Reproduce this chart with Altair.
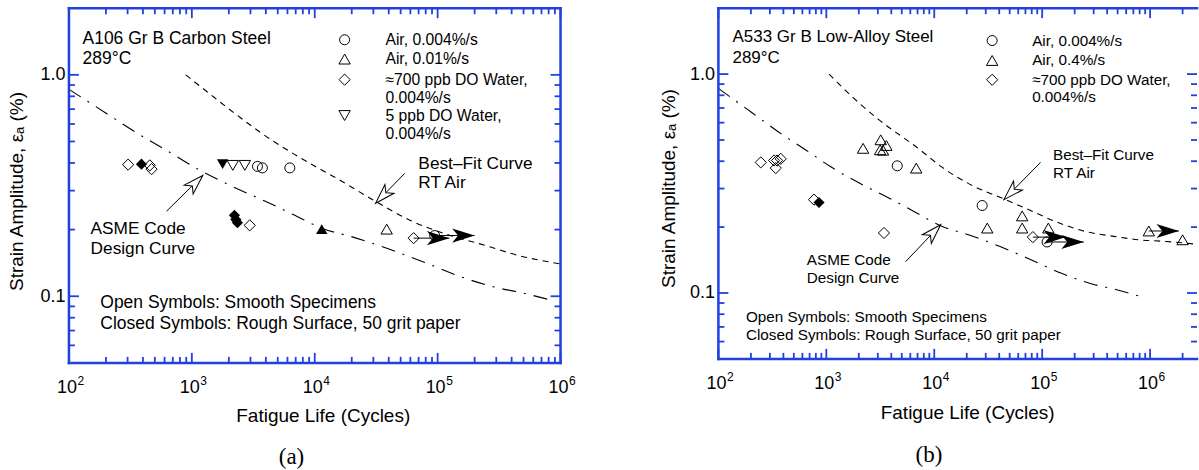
import altair as alt
import pandas as pd

FONT = "Liberation Sans"
SERIF = "Liberation Serif"
BLUE = "#2040e0"
INK = "black"

# ---------------- Panel (a): A106 Gr B carbon steel, 289 C ----------------
a_life = [303, 389, 455, 470, 2220, 2280, 2350, 2958, 63800,
          11400, 38500,
          1780, 2155, 2700,
          3420, 3750, 6270, 94600]
a_strain = [0.393, 0.395, 0.390, 0.375, 0.232, 0.222, 0.215, 0.209, 0.183,
            0.201, 0.201,
            0.395, 0.390, 0.390,
            0.386, 0.380, 0.380, 0.188]
a_symbol = ["diamond"] * 9 + ["triangle-up"] * 2 + ["triangle-down"] * 3 + ["circle"] * 4
a_closed = [False, True, False, False, True, True, True, False, False,
            True, False,
            True, False, False,
            False, False, False, False]
a_runout_from = [63800, 94600]
a_runout_to = [124500, 200000]
a_runout_strain = [0.183, 0.188]

# ---------------- Panel (b): A533 Gr B low-alloy steel, 289 C ----------------
b_life = [247, 328, 350, 378, 340, 769, 855, 3420, 82000,
          2190, 3190, 3600, 3150, 3350, 6810, 31000, 65300, 65300, 114000, 973000, 2000000,
          4540, 27800, 111000]
b_strain = [0.395, 0.403, 0.403, 0.410, 0.372, 0.267, 0.259, 0.188, 0.180,
            0.458, 0.501, 0.472, 0.451, 0.449, 0.372, 0.198, 0.225, 0.198, 0.198, 0.192, 0.175,
            0.381, 0.251, 0.171]
b_symbol = ["diamond"] * 9 + ["triangle-up"] * 12 + ["circle"] * 3
b_closed = [False] * 6 + [True] + [False] * 17
b_runout_from = [82000, 111000, 973000]
b_runout_to = [166000, 243000, 1850000]
b_runout_strain = [0.180, 0.171, 0.192]

# ---------------- Curves ----------------
asme_life = [100, 205, 355, 655, 1100, 2040, 4000, 6670, 11400, 21100, 40700,
             76000, 151000, 290000, 490000, 840000]
asme_strain = [0.86, 0.666, 0.547, 0.448, 0.377, 0.317, 0.268, 0.234, 0.203, 0.184, 0.163,
               0.143, 0.123, 0.110, 0.1035, 0.096]
cs_fit_life = [893, 1400, 2460, 4300, 7100, 17000, 29600, 60000, 120000, 241000, 450000, 1000000]
cs_fit_strain = [1.0, 0.82, 0.643, 0.514, 0.432, 0.328, 0.273, 0.22, 0.19, 0.17, 0.153, 0.14]
las_fit_life = [1060, 1870, 3080, 6730, 12700, 22500, 45800, 75300, 133000, 252000,
                479000, 785000, 1400000, 2720000]
las_fit_strain = [1.0, 0.762, 0.618, 0.467, 0.366, 0.31, 0.267, 0.24, 0.212, 0.191,
                  0.181, 0.175, 0.172, 0.167]

# ---------------- Text annotations ----------------
a_texts = [
    ("A106 Gr B Carbon Steel", 129, 1.455, 17.5),
    ("289°C", 129, 1.182, 17.5),
    ("Air, 0.004%/s", 37600, 1.44, 15.7),
    ("Air, 0.01%/s", 37600, 1.178, 15.7),
    ("≈700 ppb DO Water,", 37600, 0.951, 15.7),
    ("0.004%/s", 37600, 0.789, 15.7),
    ("5 ppb DO Water,", 37600, 0.655, 15.7),
    ("0.004%/s", 37600, 0.543, 15.7),
    ("Best–Fit Curve", 69700, 0.394, 17.3),
    ("RT Air", 69700, 0.324, 17.3),
    ("ASME Code", 150, 0.2006, 17.3),
    ("Design Curve", 150, 0.163, 17.3),
    ("Open Symbols: Smooth Specimens", 180, 0.0931, 17.5),
    ("Closed Symbols: Rough Surface, 50 grit paper", 180, 0.0749, 17.5),
]
a_legend = [("circle", 17500, 1.44), ("triangle-up", 17500, 1.178),
            ("diamond", 17500, 0.951), ("triangle-down", 17500, 0.655)]
a_arrows = [(622, 0.242, 1227, 0.351, 45), (54000, 0.359, 31300, 0.263, 224)]

b_texts = [
    ("A533 Gr B Low-Alloy Steel", 135, 1.476, 17),
    ("289°C", 135, 1.183, 17),
    ("Air, 0.004%/s", 80700, 1.423, 15.3),
    ("Air, 0.4%/s", 80700, 1.154, 15.3),
    ("≈700 ppb DO Water,", 80700, 0.942, 15.3),
    ("0.004%/s", 80700, 0.788, 15.3),
    ("Best–Fit Curve", 126000, 0.426, 15.3),
    ("RT Air", 126000, 0.354, 15.3),
    ("ASME Code", 659, 0.141, 15.3),
    ("Design Curve", 659, 0.1167, 15.3),
    ("Open Symbols: Smooth Specimens", 180, 0.0778, 15.3),
    ("Closed Symbols: Rough Surface, 50 grit paper", 180, 0.0642, 15.3),
]
b_legend = [("circle", 34400, 1.423), ("triangle-up", 34400, 1.154), ("diamond", 34400, 0.942)]
b_arrows = [(5430, 0.139, 11460, 0.205, 44), (96600, 0.395, 44200, 0.267, 225)]

OPEN_HEAD = "M0,0 L0.6,1.9 L0,1.4 L-0.6,1.9 Z"
RUN_HEAD = "M0,0 L-1.9,-0.6 L-1.4,0 L-1.9,0.6 Z"
SIZE_EXPR = "datum.shape=='circle' ? 100 : (datum.shape=='diamond' ? 125 : 130)"


def minor_ticks(start, lo, hi):
    out, d = [], start
    while d < hi:
        for k in range(2, 10):
            v = k * d
            if lo * 1.0001 < v < hi * 0.9999:
                out.append(v)
        d *= 10
    return out


def panel(life, strain, symbol, closed, r_from, r_to, r_strain,
          fit_life, fit_strain, texts, legend, arrows,
          xmax, width, height, right_frame, ytitle_xy, xtitle_xy, caption, cap_life, cap_dy):
    xs = alt.Scale(type="log", domain=[100, xmax], nice=False)
    ys = alt.Scale(type="log", domain=[0.05, 2.0], nice=False)
    one = pd.DataFrame({"k": [0]})
    ax = alt.Axis(title="Fatigue Life (Cycles)", labels=False, ticks=False,
                  domain=False, grid=False, titleFont=FONT, titleFontSize=19,
                  titleFontWeight="normal", titleColor=INK,
                  titleX=xtitle_xy[0], titleY=xtitle_xy[1],
                  titleBaseline="middle", titleAlign="center")
    ay = alt.Axis(values=[0.1, 1.0], format=".1f", labelFont=FONT,
                  labelFontSize=18, labelColor=INK, labelPadding=4,
                  ticks=False, domain=False, grid=False,
                  title="Strain Amplitude,  εₐ (%)", titleFont=FONT,
                  titleFontSize=19, titleFontWeight="normal", titleColor=INK,
                  titleAngle=270, titleX=ytitle_xy[0], titleY=ytitle_xy[1],
                  titleBaseline="middle", titleAlign="center")

    def X(f):
        return alt.X(f, type="quantitative", scale=xs, axis=ax)

    def Y(f):
        return alt.Y(f, type="quantitative", scale=ys, axis=ay)

    def XD(v):
        return alt.XDatum(v, type="quantitative", scale=xs, axis=ax)

    def YD(v):
        return alt.YDatum(v, type="quantitative", scale=ys, axis=ay)

    layers = []
    asme = pd.DataFrame({"N": asme_life, "eps": asme_strain})
    layers.append(
        alt.Chart(asme).mark_line(color=INK, strokeWidth=1.1, strokeDash=[14, 8, 2, 8],
                                  interpolate="monotone", clip=True).encode(x=X("N"), y=Y("eps"))
    )
    fit = pd.DataFrame({"N": fit_life, "eps": fit_strain})
    layers.append(
        alt.Chart(fit).mark_line(color=INK, strokeWidth=1.1, strokeDash=[6, 5],
                                 interpolate="monotone", clip=True).encode(x=X("N"), y=Y("eps"))
    )

    # inward ticks
    x_major = [v for v in [1e2, 1e3, 1e4, 1e5, 1e6] if v <= xmax]
    x_minor = minor_ticks(100, 100, xmax)
    y_major = [0.1, 1.0]
    y_minor = minor_ticks(0.01, 0.05, 2.0)
    for vals, ln in ((x_major, 10), (x_minor, 6)):
        df = pd.DataFrame({"v": vals})
        layers.append(alt.Chart(df).mark_rule(color=BLUE, strokeWidth=1.8, y2Offset=-ln).encode(
            x=X("v"), y=YD(0.05), y2=alt.Y2Datum(0.05)))
        layers.append(alt.Chart(df).mark_rule(color=BLUE, strokeWidth=1.8, y2Offset=ln).encode(
            x=X("v"), y=YD(2.0), y2=alt.Y2Datum(2.0)))
    for vals, ln in ((y_major, 10), (y_minor, 6)):
        df = pd.DataFrame({"v": vals})
        layers.append(alt.Chart(df).mark_rule(color=BLUE, strokeWidth=1.8, x2Offset=ln).encode(
            y=Y("v"), x=XD(100), x2=alt.X2Datum(100)))
        layers.append(alt.Chart(df).mark_rule(color=BLUE, strokeWidth=1.8, x2Offset=-ln).encode(
            y=Y("v"), x=XD(xmax), x2=alt.X2Datum(xmax)))

    # frame
    fr = dict(color=BLUE, strokeWidth=2.5, strokeCap="square")
    layers.append(alt.Chart(one).mark_rule(**fr).encode(x=XD(100), x2=alt.X2Datum(xmax), y=YD(0.05)))
    layers.append(alt.Chart(one).mark_rule(**fr).encode(x=XD(100), x2=alt.X2Datum(xmax), y=YD(2.0)))
    layers.append(alt.Chart(one).mark_rule(**fr).encode(x=XD(100), y=YD(0.05), y2=alt.Y2Datum(2.0)))
    if right_frame:
        layers.append(alt.Chart(one).mark_rule(**fr).encode(x=XD(xmax), y=YD(0.05), y2=alt.Y2Datum(2.0)))

    # runout arrows
    runs = pd.DataFrame({"N0": r_from, "N1": r_to, "eps": r_strain})
    layers.append(alt.Chart(runs).mark_rule(color=INK, strokeWidth=1).encode(
        x=X("N0"), x2=alt.X2("N1"), y=Y("eps")))
    layers.append(alt.Chart(runs).mark_point(shape=RUN_HEAD, filled=True, color=INK, size=560,
                                             opacity=1).encode(x=X("N1"), y=Y("eps")))

    # data points
    pts = pd.DataFrame({"N": life, "eps": strain, "shape": symbol, "closed": closed})
    layers.append(alt.Chart(pts).transform_filter("!datum.closed").transform_calculate(
        sz=SIZE_EXPR).mark_point(filled=False, color=INK, strokeWidth=1, opacity=1).encode(
        x=X("N"), y=Y("eps"), shape=alt.Shape("shape:N", scale=None),
        size=alt.Size("sz:Q", scale=None)))
    layers.append(alt.Chart(pts).transform_filter("datum.closed").transform_calculate(
        sz=SIZE_EXPR).mark_point(filled=True, color=INK, strokeWidth=1, opacity=1).encode(
        x=X("N"), y=Y("eps"), shape=alt.Shape("shape:N", scale=None),
        size=alt.Size("sz:Q", scale=None)))

    # legend symbols
    leg = pd.DataFrame(legend, columns=["shape", "N", "eps"])
    layers.append(alt.Chart(leg).transform_calculate(sz=SIZE_EXPR).mark_point(
        filled=False, color=INK, strokeWidth=1, opacity=1).encode(
        x=X("N"), y=Y("eps"), shape=alt.Shape("shape:N", scale=None),
        size=alt.Size("sz:Q", scale=None)))

    # annotation arrows
    arr = pd.DataFrame(arrows, columns=["tN", "tE", "hN", "hE", "ang"])
    layers.append(alt.Chart(arr).mark_rule(color=INK, strokeWidth=1).encode(
        x=X("tN"), x2=alt.X2("hN"), y=Y("tE"), y2=alt.Y2("hE")))
    layers.append(alt.Chart(arr).mark_point(shape=OPEN_HEAD, filled=True, fill="white",
                                            stroke=INK, strokeWidth=1, size=441, opacity=1).encode(
        x=X("hN"), y=Y("hE"), angle=alt.Angle("ang:Q", scale=None)))

    # texts
    tdf = pd.DataFrame(texts, columns=["label", "N", "eps", "fs"])
    layers.append(alt.Chart(tdf).mark_text(align="left", baseline="middle", font=FONT,
                                           color=INK).encode(
        x=X("N"), y=Y("eps"), text="label:N", size=alt.Size("fs:Q", scale=None)))

    # x tick labels 10^n
    tl = pd.DataFrame({"v": x_major, "b": ["10"] * len(x_major),
                       "e": [str(i + 2) for i in range(len(x_major))]})
    layers.append(alt.Chart(tl).mark_text(align="right", baseline="middle", dx=8, dy=25,
                                          font=FONT, fontSize=18, color=INK).encode(
        x=X("v"), y=YD(0.05), text="b:N"))
    layers.append(alt.Chart(tl).mark_text(align="left", baseline="middle", dx=8.5, dy=18,
                                          font=FONT, fontSize=12, color=INK).encode(
        x=X("v"), y=YD(0.05), text="e:N"))

    # caption
    layers.append(alt.Chart(one).mark_text(font=SERIF, fontSize=23, baseline="middle",
                                           align="center", dy=cap_dy, color=INK).encode(
        x=XD(cap_life), y=YD(0.05), text=alt.value(caption)))

    return alt.layer(*layers).properties(width=width, height=height)


pa = panel(a_life, a_strain, a_symbol, a_closed, a_runout_from, a_runout_to, a_runout_strain,
           cs_fit_life, cs_fit_strain, a_texts, a_legend, a_arrows,
           1e6, 492, 355, True, (-52, 183), (254, 53), "(a)", 6470, 94)
pb = panel(b_life, b_strain, b_symbol, b_closed, b_runout_from, b_runout_to, b_runout_strain,
           las_fit_life, las_fit_strain, b_texts, b_legend, b_arrows,
           2.72e6, 479, 351, False, (-50, 180), (249, 54), "(b)", 8940, 96)

chart = alt.hconcat(pa, pb, spacing=158, bounds="flush").properties(
    padding={"left": 8, "top": 6, "right": 0, "bottom": 2}, background="white"
).configure_view(stroke=None)

chart.save("out.html", embed_options={"renderer": "svg", "actions": False})
